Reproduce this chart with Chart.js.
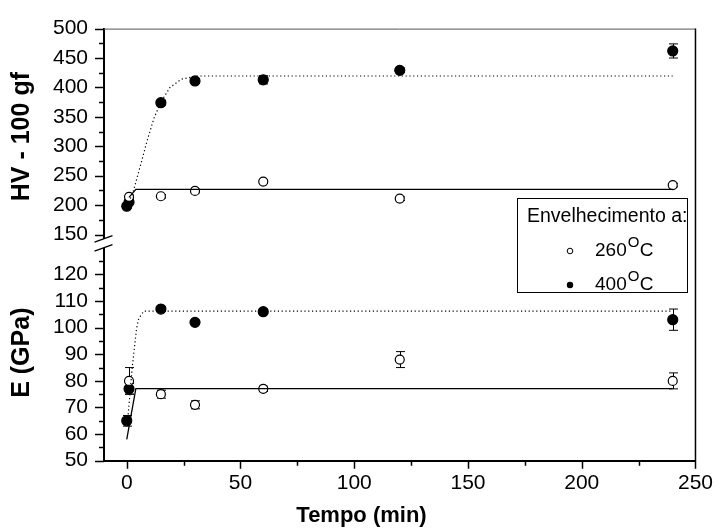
<!DOCTYPE html>
<html>
<head>
<meta charset="utf-8">
<script src="https://cdn.jsdelivr.net/npm/chart.js@4.4.1/dist/chart.umd.min.js"></script>
<style>
    html, body { margin: 0; padding: 0; background: #fff; }
</style>
</head>
<body>
<canvas id="hv-e-chart" width="723" height="532"></canvas>
<script>
// Envelhecimento a 260 oC
var time_260 = [1, 15, 30, 60, 120, 240];
var hv_260 = [214, 215, 224, 240, 211, 234];
var hv_260_err = [3, 3, 3, 3, 3, 3];
var e_260 = [80, 75, 71, 77, 88, 80];
var e_260_err = [5, 1.5, 1.5, 1, 3, 3];

// Envelhecimento a 400 oC
var time_400_hv = [0, 1, 15, 30, 60, 120, 240];
var hv_400 = [198, 205, 374, 411, 413, 429, 462];
var hv_400_err = [3, 3, 4, 4, 7, 4, 12];
var time_400_e = [0, 1, 15, 30, 60, 240];
var e_400 = [65, 77, 107, 102, 106, 103];
var e_400_err = [2, 2, 0.8, 0.8, 0.8, 4];

// curvas de ajuste
var fit_hv_260_t = [1, 4, 240];
var fit_hv_260_v = [213, 226.7, 226.7];
var fit_hv_400_t = [1, 3, 6, 9, 12, 15, 19, 24, 31, 240];
var fit_hv_400_v = [205, 225, 267, 310, 348, 375, 400, 414, 419.4, 419.4];
var fit_e_260_t = [0, 4, 240];
var fit_e_260_v = [58, 77.1, 77.1];
var fit_e_400_t = [0.5, 2.4, 4.3, 5.3, 7.5, 240];
var fit_e_400_v = [66, 85, 99.6, 103.5, 106.2, 106.2];

// eixos
var x_ticks = [0, 50, 100, 150, 200, 250];
var x_minor = [25, 75, 125, 175, 225];
var hv_ticks = [150, 200, 250, 300, 350, 400, 450, 500];
var hv_minor = [175, 225, 275, 325, 375, 425, 475];
var e_ticks = [50, 60, 70, 80, 90, 100, 110, 120];
var e_minor = [55, 65, 75, 85, 95, 105, 115, 125];

var FONT = "'Liberation Sans', Arial, Helvetica, sans-serif";

function pts(xs, ys) {
    return xs.map(function (x, i) { return { x: x, y: ys[i] }; });
}

function pointSet(label, xs, ys, errs, axis, filled) {
    return {
        label: label,
        data: pts(xs, ys),
        errors: errs,
        yAxisID: axis,
        order: 2,
        pointStyle: 'circle',
        pointRadius: filled ? 5 : 4.5,
        pointBorderWidth: 1.2,
        pointBackgroundColor: filled ? '#000' : '#fff',
        pointBorderColor: '#000',
        showLine: false
    };
}

function fitSet(xs, ys, axis, dotted) {
    return {
        data: pts(xs, ys),
        yAxisID: axis,
        order: 1,
        showLine: true,
        pointRadius: 0,
        borderColor: '#000',
        borderWidth: dotted ? 1.2 : 1.3,
        borderDash: dotted ? [1.2, 2.6] : [],
        tension: 0,
        fill: false
    };
}

var errorBars = {
    id: 'errorBars',
    beforeDatasetsDraw: function (chart) {
        var ctx = chart.ctx;
        ctx.save();
        ctx.strokeStyle = '#000';
        ctx.lineWidth = 1;
        chart.data.datasets.forEach(function (ds) {
            if (!ds.errors) return;
            var xs = chart.scales.x;
            var ys = chart.scales[ds.yAxisID];
            ds.data.forEach(function (p, i) {
                var e = ds.errors[i];
                var px = Math.round(xs.getPixelForValue(p.x)) + 0.5;
                var y1 = ys.getPixelForValue(p.y + e);
                var y2 = ys.getPixelForValue(p.y - e);
                ctx.beginPath();
                ctx.moveTo(px, y1); ctx.lineTo(px, y2);
                ctx.moveTo(px - 4.5, y1); ctx.lineTo(px + 4.5, y1);
                ctx.moveTo(px - 4.5, y2); ctx.lineTo(px + 4.5, y2);
                ctx.stroke();
            });
        });
        ctx.restore();
    }
};

function drawTemp(ctx, x, y, num) {
    ctx.font = '19px ' + FONT;
    ctx.fillText(num, x, y);
    var w = ctx.measureText(num).width + 1;
    ctx.font = '15px ' + FONT;
    ctx.fillText('O', x + w, y - 8);
    var w2 = ctx.measureText('O').width + 0.5;
    ctx.font = '19px ' + FONT;
    ctx.fillText('C', x + w + w2, y);
}

var frame = {
    id: 'frame',
    afterDraw: function (chart) {
        var ctx = chart.ctx;
        var a = chart.chartArea;
        var xs = chart.scales.x, yh = chart.scales.yHV, ye = chart.scales.yE;
        ctx.save();
        ctx.strokeStyle = '#000';

        // moldura superior e direita
        ctx.lineWidth = 1;
        ctx.strokeStyle = '#555';
        ctx.beginPath();
        ctx.moveTo(a.left, a.top + 0.5); ctx.lineTo(a.right, a.top + 0.5);
        ctx.stroke();
        ctx.strokeStyle = '#000';
        ctx.lineWidth = 1.5;
        ctx.beginPath();
        ctx.moveTo(a.right, a.top); ctx.lineTo(a.right, a.bottom);
        ctx.stroke();

        // tracos dos eixos
        ctx.lineWidth = 1.5;
        ctx.beginPath();
        function yTicks(scale, major, minor) {
            major.forEach(function (v) {
                var p = Math.round(scale.getPixelForValue(v)) + 0.5;
                ctx.moveTo(a.left - 9, p); ctx.lineTo(a.left, p);
            });
            minor.forEach(function (v) {
                var p = Math.round(scale.getPixelForValue(v)) + 0.5;
                ctx.moveTo(a.left - 5, p); ctx.lineTo(a.left, p);
            });
        }
        yTicks(yh, hv_ticks, hv_minor);
        yTicks(ye, e_ticks, e_minor);
        x_ticks.forEach(function (v) {
            var p = Math.round(xs.getPixelForValue(v)) + 0.5;
            ctx.moveTo(p, a.bottom); ctx.lineTo(p, a.bottom + 8);
        });
        x_minor.forEach(function (v) {
            var p = Math.round(xs.getPixelForValue(v)) + 0.5;
            ctx.moveTo(p, a.bottom); ctx.lineTo(p, a.bottom + 5);
        });
        ctx.stroke();

        // quebra do eixo
        var b = yh.bottom;
        var x0 = a.left - 9.5, x1 = a.left + 8.5;
        ctx.fillStyle = '#fff';
        ctx.beginPath();
        ctx.moveTo(x0, b - 2.5); ctx.lineTo(x1, b - 9);
        ctx.lineTo(x1, b); ctx.lineTo(x0, b + 6.5);
        ctx.closePath();
        ctx.fill();
        ctx.lineWidth = 1.3;
        ctx.beginPath();
        ctx.moveTo(x0, b - 2.5); ctx.lineTo(x1, b - 9);
        ctx.moveTo(x0, b + 6.5); ctx.lineTo(x1, b);
        ctx.stroke();

        // titulo do eixo x (centrado na pagina)
        ctx.fillStyle = '#000';
        ctx.textAlign = 'center';
        ctx.textBaseline = 'middle';
        ctx.font = 'bold 22px ' + FONT;
        ctx.fillText('Tempo (min)', chart.width / 2, 516);

        // legenda
        var lx = 517, ly = 198, lw = 170, lh = 94;
        ctx.fillStyle = '#fff';
        ctx.fillRect(lx, ly, lw, lh);
        ctx.lineWidth = 1;
        ctx.strokeRect(lx + 0.5, ly + 0.5, lw, lh);
        ctx.save();
        ctx.beginPath();
        ctx.rect(lx, ly, lw, lh);
        ctx.clip();
        ctx.fillStyle = '#000';
        ctx.textBaseline = 'middle';
        ctx.textAlign = 'left';
        ctx.font = '19.5px ' + FONT;
        ctx.fillText('Envelhecimento a:', lx + 10, ly + 19);
        ctx.restore();

        ctx.textAlign = 'left';
        ctx.textBaseline = 'middle';
        ctx.lineWidth = 1;
        ctx.beginPath();
        ctx.arc(lx + 53, ly + 53, 2.8, 0, Math.PI * 2);
        ctx.fillStyle = '#fff';
        ctx.fill();
        ctx.stroke();
        ctx.beginPath();
        ctx.arc(lx + 53, ly + 87, 3.2, 0, Math.PI * 2);
        ctx.fillStyle = '#000';
        ctx.fill();
        drawTemp(ctx, lx + 78, ly + 53, '260');
        drawTemp(ctx, lx + 78, ly + 87, '400');
        ctx.restore();
    }
};

var ctx = document.getElementById('hv-e-chart');
var HVChart = new Chart(ctx, {
    type: 'scatter',
    data: {
        datasets: [
            pointSet('260 oC', time_260, hv_260, hv_260_err, 'yHV', false),
            pointSet('400 oC', time_400_hv, hv_400, hv_400_err, 'yHV', true),
            pointSet('260 oC', time_260, e_260, e_260_err, 'yE', false),
            pointSet('400 oC', time_400_e, e_400, e_400_err, 'yE', true),
            fitSet(fit_hv_260_t, fit_hv_260_v, 'yHV', false),
            fitSet(fit_hv_400_t, fit_hv_400_v, 'yHV', true),
            fitSet(fit_e_260_t, fit_e_260_v, 'yE', false),
            fitSet(fit_e_400_t, fit_e_400_v, 'yE', true)
        ]
    },
    plugins: [errorBars, frame],
    options: {
        responsive: false,
        animation: false,
        layout: {
            padding: { top: 20, right: 18.5, left: 0, bottom: 0 }
        },
        plugins: {
            legend: { display: false },
            tooltip: { enabled: false }
        },
        scales: {
            x: {
                type: 'linear',
                position: 'bottom',
                min: -10,
                max: 250,
                afterBuildTicks: function (s) { s.ticks = x_ticks.map(function (v) { return { value: v }; }); },
                afterFit: function (s) { s.height = 71.3; },
                grid: { display: false, drawTicks: false },
                border: { display: true, color: '#000', width: 2 },
                ticks: { padding: 10, color: '#000', font: { family: FONT, size: 21 }, autoSkip: false, maxRotation: 0 },
                title: { display: false }
            },
            yE: {
                type: 'linear',
                position: 'left',
                stack: 'y',
                stackWeight: 1,
                min: 50,
                max: 131.2,
                afterBuildTicks: function (s) { s.ticks = e_ticks.map(function (v) { return { value: v }; }); },
                afterFit: function (s) { s.width = 104; },
                grid: { display: false, drawTicks: false },
                border: { display: true, color: '#000', width: 2 },
                ticks: { padding: 16, color: '#000', font: { family: FONT, size: 21 }, autoSkip: false },
                title: { display: true, text: 'E (GPa)', color: '#000', font: { family: FONT, size: 25, weight: 'bold' }, padding: { top: 7, bottom: 0 } }
            },
            yHV: {
                type: 'linear',
                position: 'left',
                stack: 'y',
                stackWeight: 1,
                min: 132.75,
                max: 500,
                afterBuildTicks: function (s) { s.ticks = hv_ticks.map(function (v) { return { value: v }; }); },
                afterFit: function (s) { s.width = 104; },
                grid: { display: false, drawTicks: false },
                border: { display: true, color: '#000', width: 2 },
                ticks: { padding: 16, color: '#000', font: { family: FONT, size: 21 }, autoSkip: false },
                title: { display: true, text: 'HV - 100 gf', color: '#000', font: { family: FONT, size: 25, weight: 'bold' }, padding: { top: 7, bottom: 0 } }
            }
        }
    }
});
</script>
</body>
</html>
